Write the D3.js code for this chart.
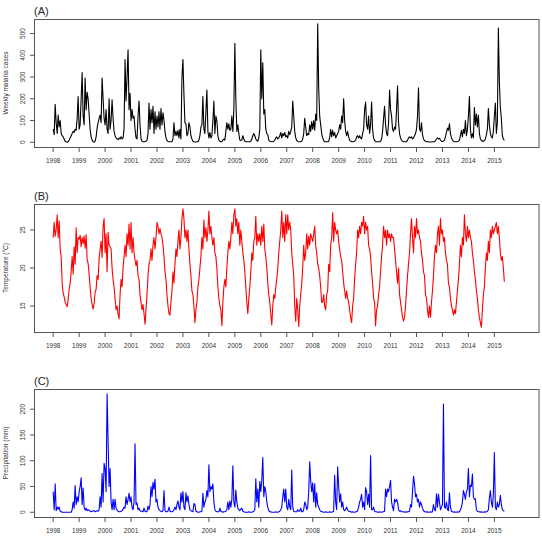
<!DOCTYPE html>
<html>
<head>
<meta charset="utf-8">
<script src="https://cdn.jsdelivr.net/npm/d3@7"></script>
<style>
  body { margin: 0; background: #fff; }
  svg { display: block; font-family: "Liberation Sans", Arial, Helvetica, sans-serif; }
</style>
</head>
<body>
<div id="chart"></div>
<script>
// fortnightly samples, 26 per year, starting Jan 1998
const startYear = 1998;
const perYear = 26;
const yearTicks = [1998, 1999, 2000, 2001, 2002, 2003, 2004, 2005, 2006,
  2007, 2008, 2009, 2010, 2011, 2012, 2013, 2014, 2015];

const malaria = [
  60, 35, 175, 90, 40, 125, 70, 100, 40, 30, 25, 15, 5, 2, 0, 2, 10, 20, 30, 40, 50, 45, 60, 55, 110, 210, // 1998
  60, 80, 200, 320, 120, 80, 295, 150, 230, 200, 130, 60, 25, 10, 3, 0, 5, 25, 65, 90, 110, 125, 90, 295, 200, 110, // 1999
  80, 150, 60, 40, 200, 60, 100, 195, 110, 50, 30, 20, 15, 12, 20, 15, 25, 15, 20, 60, 380, 190, 300, 425, 150, 225, // 2000
  100, 150, 110, 120, 60, 20, 15, 120, 190, 80, 15, 5, 3, 2, 3, 5, 10, 40, 180, 60, 150, 90, 165, 40, 140, 60, // 2001
  120, 70, 140, 60, 155, 80, 135, 100, 50, 20, 8, 4, 2, 2, 2, 3, 15, 90, 30, 50, 30, 55, 20, 60, 15, 300, // 2002
  380, 220, 90, 85, 30, 40, 90, 70, 30, 15, 5, 2, 1, 1, 2, 3, 10, 30, 70, 80, 210, 60, 40, 140, 240, 50, // 2003
  20, 45, 20, 30, 100, 190, 40, 120, 100, 30, 10, 5, 2, 2, 10, 15, 10, 50, 90, 60, 85, 55, 60, 120, 50, 150, // 2004
  455, 200, 50, 80, 40, 10, 8, 10, 30, 15, 5, 3, 2, 2, 2, 3, 5, 15, 30, 40, 30, 15, 8, 5, 20, 60, // 2005
  425, 200, 365, 130, 150, 60, 40, 35, 10, 5, 3, 2, 3, 5, 10, 20, 25, 15, 20, 30, 45, 20, 40, 30, 45, 25, // 2006
  30, 20, 50, 35, 50, 70, 190, 120, 50, 20, 8, 4, 2, 2, 3, 5, 15, 40, 110, 70, 30, 40, 35, 80, 50, 95, // 2007
  60, 100, 55, 130, 100, 545, 250, 120, 80, 40, 20, 8, 3, 2, 2, 2, 5, 20, 60, 25, 55, 30, 45, 20, 30, 40, // 2008
  50, 80, 60, 120, 90, 200, 100, 50, 30, 50, 25, 10, 5, 3, 2, 3, 5, 10, 25, 30, 20, 30, 20, 15, 40, 60, // 2009
  150, 185, 80, 60, 120, 40, 80, 185, 60, 20, 8, 4, 2, 2, 2, 3, 5, 15, 50, 110, 165, 80, 40, 30, 90, 240, // 2010
  150, 120, 60, 50, 70, 60, 150, 260, 90, 40, 20, 10, 5, 3, 2, 2, 3, 10, 20, 25, 20, 25, 15, 20, 30, 40, // 2011
  60, 120, 250, 60, 50, 90, 35, 15, 8, 5, 3, 2, 2, 1, 1, 1, 2, 2, 3, 8, 15, 20, 15, 18, 10, 5, // 2012
  3, 5, 10, 25, 45, 65, 55, 85, 40, 20, 10, 5, 3, 2, 2, 3, 5, 10, 30, 55, 25, 60, 40, 100, 30, 60, // 2013
  120, 210, 60, 20, 40, 20, 160, 80, 130, 70, 125, 40, 15, 8, 5, 5, 8, 15, 35, 60, 155, 80, 40, 25, 20, 50, // 2014
  120, 180, 40, 90, 525, 280, 160, 110, 30, 15, 8 // 2015
];

const temperature = [
  24, 26, 24.2, 25, 27, 24, 26.2, 22.5, 21.5, 18, 16.7, 16.2, 15.5, 15.2, 14.9, 15.8, 17.2, 18, 19.5, 21.5, 19.2, 22.8, 20.5, 25.3, 22, 24, // 1998
  23.8, 24.3, 22.8, 24, 23.2, 24.2, 22.6, 24.4, 21.2, 20.6, 19.2, 17.5, 16, 15.2, 14.6, 15.3, 16.8, 17.2, 19, 18.5, 21.2, 22.5, 23.5, 21.4, 25.5, 26.5, // 1999
  22, 24.5, 19.5, 24.7, 23, 22.8, 22.5, 20, 18.5, 17.5, 16, 14.5, 15, 14, 13.3, 16.5, 18.5, 17.5, 20, 21.5, 23, 21.5, 24.5, 23, 25.8, 22.5, // 2000
  26, 22, 24, 22, 21, 20.3, 21, 19, 18.5, 16.5, 15.5, 14.5, 15.2, 14, 12.6, 14.5, 16.5, 19, 20.5, 21, 22.5, 21, 23, 24, 22.5, 24, // 2001
  26, 25.5, 24.5, 25.2, 24.5, 24, 23, 21.5, 19.5, 18.5, 16.5, 15, 14, 13.8, 15.5, 17, 19.5, 18, 20.5, 22.5, 21.5, 23.5, 25, 22.5, 24, 26.5, // 2002
  27.8, 26.5, 24, 25, 23.5, 25, 22.5, 20.5, 19, 17, 16.5, 15, 12.8, 14.5, 15.5, 17.5, 18.5, 20, 21.5, 24, 22.5, 26.3, 24, 25.3, 23.5, 25, // 2003
  27.5, 24.5, 25.5, 24, 23, 24, 22, 21.5, 20, 17.5, 16, 15, 14.5, 12.4, 15.5, 17.5, 18.5, 17.5, 20, 22, 23.5, 22.5, 24, 26, 24.5, 27, // 2004
  27.8, 25.5, 26.5, 24.5, 26, 23, 25, 23.5, 22, 21, 19.5, 17.5, 15.5, 14, 16, 17.5, 19.5, 22, 21, 23.5, 24, 26.8, 23, 24.5, 23.5, 24.5, // 2005
  23, 25.5, 23.5, 25.8, 22.5, 21.5, 20, 18, 16.5, 15.5, 14, 12.5, 15, 16.5, 16, 17.5, 18.5, 20, 22, 23.5, 25, 27.5, 24, 26, 23.5, 27, // 2006
  24.5, 27, 25, 26, 25, 22, 20.5, 19, 15, 13, 16, 14.5, 12.3, 15, 16.5, 18, 20, 23, 21, 22, 24.5, 22.5, 24.2, 23, 24.5, 24, // 2007
  23.5, 24.5, 25.5, 23, 22, 20.5, 20, 19, 17.5, 15.5, 15.5, 16.5, 15, 14.5, 16.5, 17, 20.5, 19.5, 23, 24, 27.3, 23.5, 26, 25, 24.5, 25, // 2008
  23.5, 22.5, 21.5, 21, 19.5, 18, 17, 16, 17, 16, 15.5, 14.5, 13.5, 12.8, 15, 16, 18.5, 20.5, 22, 25, 24, 25.5, 24.5, 26, 25.5, 26.8, // 2009
  24.5, 26, 25, 25.5, 23, 22.5, 21.5, 19.5, 18, 16, 15.5, 12.4, 14.5, 15, 16.5, 17.5, 19.5, 21.5, 23, 25.5, 24, 25, 23, 25, 24, 24.5, // 2010
  23.5, 24.5, 24, 24, 22.5, 21, 19.5, 18, 20, 16.5, 15.5, 14.5, 13.5, 13, 13.5, 15, 17, 19, 20.5, 22, 24.5, 26.5, 24, 22, 25.5, 24, // 2011
  26.5, 24.5, 25, 24, 23.5, 22, 21, 19.5, 19, 16.5, 16, 14.5, 13.5, 15, 13.5, 15.5, 17, 19, 21.5, 23, 22, 24.5, 25.5, 23, 26.5, 24.5, // 2012
  25, 23.5, 24, 22, 21, 20.5, 18, 17.5, 16, 15, 14.5, 13.8, 14.5, 14, 15.5, 17, 18.5, 20.5, 23, 21.5, 24, 23, 27, 24.5, 23.5, 25.5, // 2013
  24, 25, 24, 23.5, 22, 21, 19.5, 18.5, 17, 16, 14.5, 13.5, 12.8, 12.2, 14.5, 16.5, 17.5, 20, 22, 21, 23.5, 22, 25, 24, 25.5, 24.5, // 2014
  25, 25.5, 26, 24.5, 25.5, 24, 22, 21, 21.5, 20, 18.2 // 2015
];

const precipitation = [
  40, 5, 55, 3, 10, 6, 10, 2, 1, 0, 0, 0, 0, 0, 0, 0, 0, 0, 0, 5, 20, 8, 52, 15, 30, 20, // 1998
  40, 50, 67, 15, 47, 10, 4, 8, 3, 5, 4, 2, 1, 2, 3, 3, 1, 2, 3, 2, 5, 30, 10, 75, 20, 95, // 1999
  85, 40, 230, 140, 50, 85, 20, 5, 25, 5, 25, 8, 4, 2, 1, 1, 2, 3, 6, 10, 8, 30, 15, 25, 37, 20, // 2000
  30, 10, 5, 20, 133, 15, 18, 5, 8, 3, 2, 2, 1, 8, 2, 1, 1, 12, 5, 15, 50, 30, 58, 45, 64, 20, // 2001
  25, 10, 5, 3, 2, 1, 3, 42, 3, 1, 1, 2, 10, 2, 1, 1, 2, 5, 10, 5, 15, 22, 10, 5, 38, 20, // 2002
  40, 10, 5, 38, 20, 32, 15, 5, 3, 2, 1, 17, 15, 2, 1, 0, 0, 1, 1, 2, 37, 10, 20, 25, 42, 30, // 2003
  92, 40, 50, 45, 55, 20, 5, 2, 1, 1, 1, 8, 2, 1, 0, 1, 1, 2, 5, 20, 5, 22, 10, 25, 90, 20, // 2004
  10, 43, 20, 8, 5, 3, 6, 8, 2, 1, 0, 0, 0, 0, 1, 0, 0, 0, 1, 2, 5, 65, 20, 45, 10, 60, // 2005
  40, 62, 106, 30, 50, 40, 20, 10, 3, 1, 1, 0, 0, 0, 0, 1, 0, 0, 1, 2, 5, 10, 30, 45, 20, 45, // 2006
  10, 5, 25, 10, 5, 82, 10, 2, 1, 1, 1, 5, 2, 2, 8, 1, 1, 5, 20, 15, 5, 10, 40, 98, 60, 40, // 2007
  57, 20, 55, 10, 38, 15, 10, 5, 2, 1, 1, 0, 0, 1, 0, 0, 0, 1, 0, 0, 1, 2, 72, 20, 5, 88, // 2008
  50, 20, 36, 10, 20, 5, 3, 6, 10, 5, 2, 2, 1, 0, 1, 0, 0, 1, 1, 3, 10, 20, 25, 35, 10, 20, // 2009
  5, 48, 40, 15, 35, 10, 110, 5, 5, 10, 2, 1, 1, 0, 0, 1, 0, 0, 1, 1, 2, 45, 30, 45, 40, 50, // 2010
  62, 20, 10, 3, 25, 20, 25, 20, 5, 2, 3, 1, 1, 1, 0, 1, 0, 1, 1, 2, 15, 10, 40, 70, 55, 30, // 2011
  35, 20, 25, 10, 20, 15, 8, 3, 1, 1, 0, 1, 0, 0, 1, 0, 1, 15, 5, 3, 36, 10, 35, 20, 5, 10, // 2012
  15, 210, 10, 8, 20, 5, 3, 38, 10, 2, 1, 0, 1, 0, 0, 1, 0, 1, 5, 10, 20, 42, 35, 25, 40, 45, // 2013
  85, 30, 53, 50, 74, 30, 25, 26, 5, 2, 1, 1, 0, 1, 0, 0, 1, 0, 1, 2, 5, 27, 42, 20, 10, 35, // 2014
  116, 10, 5, 20, 10, 15, 33, 15, 5, 3, 2 // 2015
];

const malariaTicks = [0, 100, 200, 300, 400, 500];
const temperatureTicks = [15, 20, 25];
const precipitationTicks = [0, 50, 100, 150, 200];

const width = 542;
const height = 543;
const left = 34.5;
const right = 539;
const panelHeight = 128;

const panels = [
  { title: '(A)', label: 'Weekly malaria cases', values: malaria, ticks: malariaTicks, color: '#000', top: 19 },
  { title: '(B)', label: 'Temperature (\u00B0C)', values: temperature, ticks: temperatureTicks, color: '#ff0000', top: 204 },
  { title: '(C)', label: 'Precipitation (mm)', values: precipitation, ticks: precipitationTicks, color: '#0000ff', top: 389 }
];

// R style 4% padding around the range
function padded(lo, hi) {
  const p = (hi - lo) * 0.04;
  return [lo - p, hi + p];
}

const x = d3
  .scaleLinear()
  .domain(padded(1998, 2016))
  .range([left, right]);

const svg = d3
  .select('#chart')
  .append('svg')
  .attr('width', width)
  .attr('height', height);

panels.forEach((p) => {
  const bottom = p.top + panelHeight;
  const y = d3
    .scaleLinear()
    .domain(padded(...d3.extent(p.values)))
    .range([bottom, p.top]);

  const g = svg.append('g');

  const line = d3
    .line()
    .x((d, i) => x(startYear + i / perYear))
    .y((d) => y(d));

  g.append('path')
    .datum(p.values)
    .attr('fill', 'none')
    .attr('stroke', p.color)
    .attr('stroke-width', 1.1)
    .attr('stroke-linejoin', 'round')
    .attr('d', line);

  g.append('rect')
    .attr('x', left)
    .attr('y', p.top + 0.5)
    .attr('width', right - left)
    .attr('height', panelHeight)
    .attr('fill', 'none')
    .attr('stroke', '#555');

  // x axis
  const xt = g.selectAll('g.xtick').data(yearTicks).join('g').attr('class', 'xtick');
  xt.append('line')
    .attr('x1', (d) => x(d))
    .attr('x2', (d) => x(d))
    .attr('y1', bottom + 0.5)
    .attr('y2', bottom + 5)
    .attr('stroke', '#555');
  xt.append('text')
    .attr('x', (d) => x(d))
    .attr('y', bottom + 16)
    .attr('text-anchor', 'middle')
    .attr('font-size', 6.5)
    .attr('fill', '#333')
    .text((d) => d);

  // y axis
  const yt = g.selectAll('g.ytick').data(p.ticks).join('g').attr('class', 'ytick');
  yt.append('line')
    .attr('x1', left - 4.5)
    .attr('x2', left)
    .attr('y1', (d) => y(d))
    .attr('y2', (d) => y(d))
    .attr('stroke', '#555');
  yt.append('text')
    .attr('transform', (d) => `translate(25,${y(d)}) rotate(-90)`)
    .attr('text-anchor', 'middle')
    .attr('font-size', 6.5)
    .attr('fill', '#333')
    .text((d) => d);

  g.append('text')
    .attr('transform', `translate(8,${(p.top + bottom) / 2}) rotate(-90)`)
    .attr('text-anchor', 'middle')
    .attr('font-size', 6.5)
    .attr('fill', '#333')
    .text(p.label);

  g.append('text')
    .attr('x', 34)
    .attr('y', p.top - 4)
    .attr('font-size', 11)
    .attr('fill', '#222')
    .text(p.title);
});
</script>
</body>
</html>
